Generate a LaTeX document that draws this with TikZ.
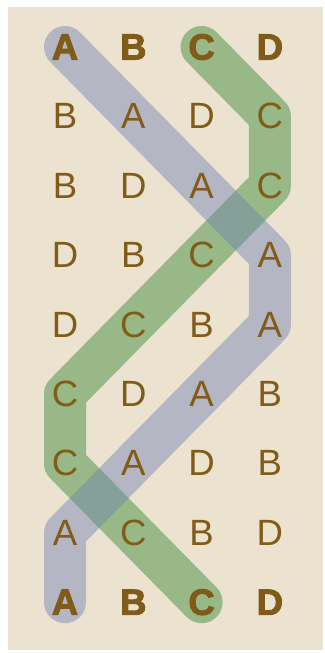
\documentclass[tikz,border=0pt]{standalone}
\usepackage{fontspec}
\setmainfont{Liberation Sans}
\newfontfamily\heavyfont{Liberation Sans Bold}[FakeBold=2.5]
\usepackage{xcolor}
\usetikzlibrary{backgrounds}

\definecolor{paper}{RGB}{236,226,208}
\definecolor{ink}{RGB}{128,92,24}
\definecolor{bandgreen}{RGB}{152,185,135}
\definecolor{bandgray}{RGB}{110,126,178}

\begin{document}
\begin{tikzpicture}[
  letter/.style={text=ink, font=\fontsize{26}{26}\selectfont, inner sep=0pt},
  row0/.style={font=\fontsize{26}{26}\selectfont\heavyfont},
  row8/.style={row0},
  band/.style={line width=1.05cm, line cap=round, line join=round},
]
  \useasboundingbox (0,0) rectangle (8.1,-16.325);

  % Letter grid, row by row
  \foreach \letters [count=\r from 0] in {{A,B,C,D},{B,A,D,C},{B,D,A,C},{D,B,C,A},
      {D,C,B,A},{C,D,A,B},{C,A,D,B},{A,C,B,D},{A,B,C,D}} {
    \foreach \c [count=\k from 0] in \letters {
      \node[letter, row\r/.try] (n\r\k) at (1.625+1.7075*\k, -1.175-1.735*\r) {\c};
    }
  }

  % Paper and the two bands behind the letters
  \begin{pgfonlayer}{background}
    \fill[paper] (0.2,-0.175) rectangle (8.075,-16.25);
    \draw[band, bandgreen] (n02.center) -- (n13.center) -- (n23.center) -- (n32.center)
      -- (n41.center) -- (n50.center) -- (n60.center) -- (n71.center) -- (n82.center);
    \draw[band, bandgray, opacity=0.43] (n00.center) -- (n11.center) -- (n22.center) -- (n33.center)
      -- (n43.center) -- (n52.center) -- (n61.center) -- (n70.center) -- (n80.center);
  \end{pgfonlayer}

\end{tikzpicture}
\end{document}
